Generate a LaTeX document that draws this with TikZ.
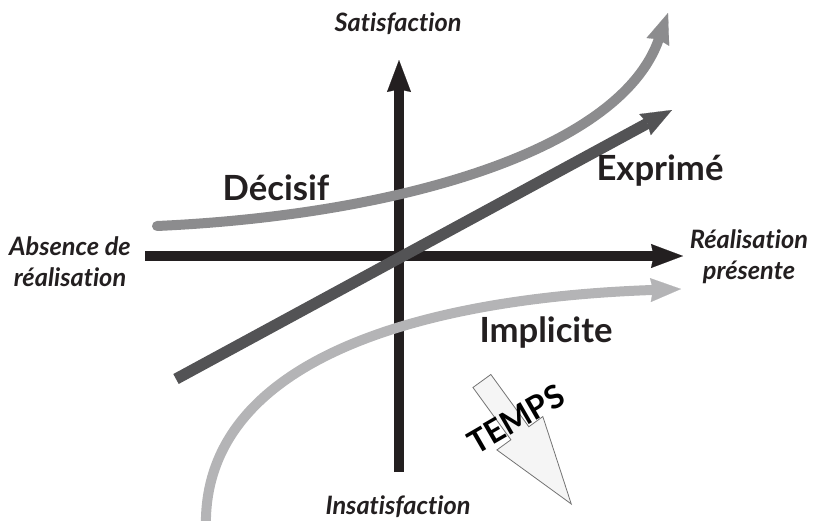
\documentclass[tikz,border=0pt]{standalone}
\usepackage{fontspec}
\setmainfont{Lato}[Ligatures=NoCommon]
\usepackage{tikz}
\usetikzlibrary{arrows.meta, shapes.arrows, positioning}
\definecolor{axiscolor}{RGB}{35,31,32}
\definecolor{decisifcolor}{RGB}{140,140,142}
\definecolor{exprimecolor}{RGB}{83,83,85}
\definecolor{implicitecolor}{RGB}{180,180,182}

\begin{document}
\begin{tikzpicture}[
  x=0.75pt, y=-0.75pt,
  axis/.style={draw=axiscolor, line width=7.5pt, -{Stealth[length=24pt, width=18pt, inset=2pt, line width=0.1pt]}},
  trend/.style={line width=7.5pt, -{Stealth[length=23pt, width=18pt, inset=2pt, line width=0.1pt]}},
  axislabel/.style={font=\fontsize{19}{23}\selectfont\bfseries\itshape, text=axiscolor, align=center, inner sep=0pt},
  kindlabel/.style={font=\fontsize{26}{30}\selectfont\bfseries, text=axiscolor, inner sep=0pt},
  timearrow/.style={single arrow, draw=black!55, fill=black!4, line width=0.6pt, inner sep=8pt,
    minimum height=114pt, single arrow head extend=13pt, single arrow tip angle=36}
]
\useasboundingbox (0,0) rectangle (814,521);

% axes
\coordinate (west) at (145,256);
\coordinate (east) at (683,256);
\coordinate (south) at (399,472);
\coordinate (north) at (399,60);
\draw[axis] (west) -- (east);
\draw[axis] (south) -- (north);

% the three kinds of needs
\coordinate (decisifstart) at (157,226);
\coordinate (decisifend) at (668,13);
\coordinate (exprimestart) at (176,379);
\coordinate (exprimeend) at (672,110);
\coordinate (implicitestart) at (206,530);
\coordinate (impliciteend) at (681,289);
\draw[trend, draw=implicitecolor] (implicitestart) .. controls (200,360) and (420,298) .. (impliciteend);
\draw[trend, draw=decisifcolor, line cap=round] (decisifstart) .. controls (400,215) and (620,150) .. (decisifend);
\draw[trend, draw=exprimecolor, line width=8.5pt] (exprimestart) -- (exprimeend);

% labels
\node[axislabel] (satisfaction) at (398,24) {Satisfaction};
\node[axislabel] (insatisfaction) at (398,507) {Insatisfaction};
\node[axislabel] (absence) at (70,262) {Absence de\\réalisation};
\node[axislabel] (presente) at (749,257) {Réalisation\\présente};
\node[kindlabel] (decisif) at (276,188) {Décisif};
\node[kindlabel] (exprime) at (660,171) {Exprimé};
\node[kindlabel] (implicite) at (546,333) {Implicite};

% time
\node[timearrow, rotate=-54, anchor=tip] (tempsarrow) at (572,505) {};
\node[font=\fontsize{24}{28}\selectfont\bfseries, rotate=30, inner sep=0pt] (temps) at (516,419) {TEMPS};
\end{tikzpicture}
\end{document}
